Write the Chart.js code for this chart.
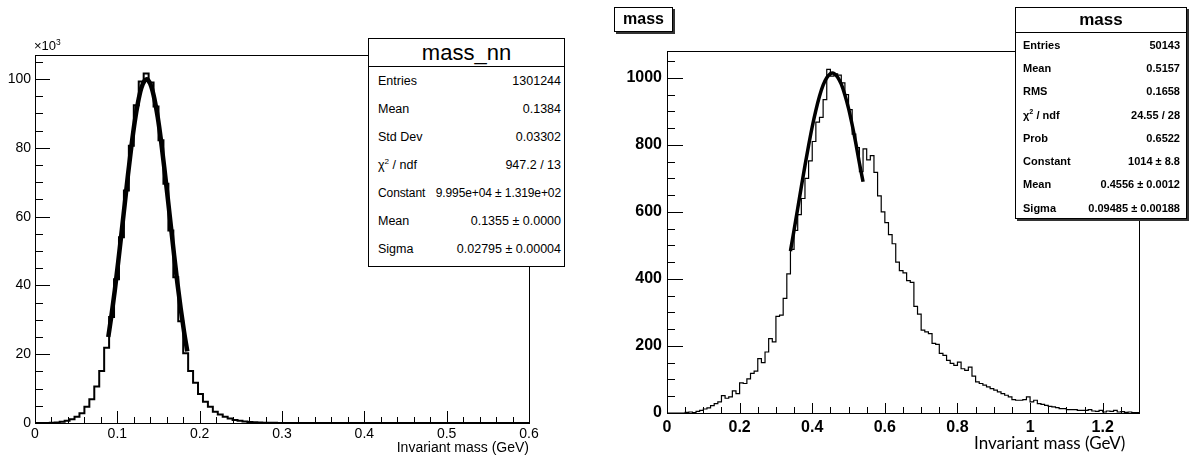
<!DOCTYPE html>
<html>
<head>
<meta charset="utf-8">
<script src="https://cdn.jsdelivr.net/npm/chart.js@4.4.1/dist/chart.umd.min.js"></script>
<style>
  body { margin: 0; width: 1194px; height: 459px; background: #fff; overflow: hidden; position: relative; font-family: "Liberation Sans", Arial, sans-serif; color: #000; }
  canvas { position: absolute; top: 0; }
  #leftCanvas { left: 0; }
  #rightCanvas { left: 590px; }
  .box { position: absolute; background: #fff; border: 1px solid #000; box-sizing: border-box; }
  .box .ttl { text-align: center; border-bottom: 1px solid #000; box-sizing: border-box; }
  .box .row { display: flex; justify-content: space-between; align-items: center; gap: 4px; white-space: nowrap; }
  sup { font-size: 65%; line-height: 0; }
  #statsL { left: 368px; top: 38px; width: 197px; height: 229px; font-size: 12.5px; }
  #statsL .ttl { height: 28px; line-height: 27px; font-size: 22px; }
  #statsL .row { height: 28px; padding: 0 3px 0 9px; }
  #statsL .row.tight { font-size: 12px; letter-spacing: -0.1px; }
  #statsR { left: 1015px; top: 7px; width: 172px; height: 212px; font-size: 11px; font-weight: bold; box-shadow: 2px 2px 0 #333; }
  #statsR .ttl { height: 25px; line-height: 24px; font-size: 17px; }
  #statsR .row { height: 23.3px; padding: 0 6px 0 7px; }
  #titleR { position: absolute; left: 614px; top: 7px; width: 59px; height: 25px; border: 1px solid #000; box-sizing: border-box; box-shadow: 2px 2px 0 #333; font-weight: bold; font-size: 16px; text-align: center; line-height: 22px; background: #fff; }
  #xtitleL { position: absolute; left: 329px; width: 200px; top: 439px; text-align: right; font-size: 14px; }
  #expL { position: absolute; left: 34px; top: 38px; font-size: 13px; }
  #xtitleR { position: absolute; left: 974px; top: 432px; font-family: Lato, "Open Sans", sans-serif; font-size: 17px; }
</style>
</head>
<body>
<canvas id="leftCanvas" width="590" height="459"></canvas>
<canvas id="rightCanvas" width="604" height="459"></canvas>

<div id="expL">&times;10<sup>3</sup></div>
<div id="xtitleL">Invariant mass (GeV)</div>
<div class="box" id="statsL">
  <div class="ttl">mass_nn</div>
  <div class="row"><span>Entries</span><span>1301244</span></div>
  <div class="row"><span>Mean</span><span>0.1384</span></div>
  <div class="row"><span>Std Dev</span><span>0.03302</span></div>
  <div class="row"><span>&chi;<sup>2</sup> / ndf</span><span>947.2 / 13</span></div>
  <div class="row tight"><span>Constant</span><span>9.995e+04 &plusmn; 1.319e+02</span></div>
  <div class="row"><span>Mean</span><span>0.1355 &plusmn; 0.0000</span></div>
  <div class="row"><span>Sigma</span><span>0.02795 &plusmn; 0.00004</span></div>
</div>

<div id="titleR">mass</div>
<div id="xtitleR">Invariant mass (GeV)</div>
<div class="box" id="statsR">
  <div class="ttl">mass</div>
  <div class="row"><span>Entries</span><span>50143</span></div>
  <div class="row"><span>Mean</span><span>0.5157</span></div>
  <div class="row"><span>RMS</span><span>0.1658</span></div>
  <div class="row"><span>&chi;<sup>2</sup> / ndf</span><span>24.55 / 28</span></div>
  <div class="row"><span>Prob</span><span>0.6522</span></div>
  <div class="row"><span>Constant</span><span>1014 &plusmn; 8.8</span></div>
  <div class="row"><span>Mean</span><span>0.4556 &plusmn; 0.0012</span></div>
  <div class="row"><span>Sigma</span><span>0.09485 &plusmn; 0.00188</span></div>
</div>

<script>
// ---- left histogram: mass_nn, 100 bins on 0..0.6 GeV, counts in units of 10^3
const leftBinWidth = 0.006;
const leftCounts = [
  0, 0, 0.02, 0.08, 0.18, 0.35, 0.62, 1.1, 1.8, 2.8,
  4.7, 6.9, 10.6, 15.1, 21.9, 30.8, 41.8, 54.0, 67.6, 80.6,
  92.4, 99.3, 101.6, 99.0, 92.0, 82.2, 69.6, 56.0, 42.4, 29.6,
  20.3, 15.1, 11.7, 8.4, 6.2, 4.7, 3.3, 2.5, 1.8, 1.3,
  0.9, 0.65, 0.45, 0.32, 0.22, 0.15, 0.1, 0.07, 0.05, 0.03,
  0.02, 0.02, 0.01, 0.01, 0.01, 0, 0, 0, 0, 0,
  0, 0, 0, 0, 0, 0, 0, 0, 0, 0,
  0, 0, 0, 0, 0, 0, 0, 0, 0, 0,
  0, 0, 0, 0, 0, 0, 0, 0, 0, 0,
  0, 0, 0, 0, 0, 0, 0, 0, 0, 0
];
// gaussian fit curve
const leftFitX = [0.089, 0.093, 0.097, 0.101, 0.105, 0.109, 0.113, 0.117, 0.121, 0.125, 0.129, 0.133, 0.1355,
                  0.137, 0.141, 0.145, 0.149, 0.153, 0.157, 0.161, 0.165, 0.169, 0.173, 0.177, 0.181, 0.185];
const leftFitY = [25.0, 31.5, 38.7, 46.7, 55.1, 63.7, 72.3, 80.3, 87.4, 93.1, 97.3, 99.5, 99.95,
                  99.8, 98.0, 94.3, 89.0, 82.2, 74.3, 65.9, 57.3, 48.7, 40.6, 33.2, 26.6, 20.8];
const leftXTicks = [0, 0.1, 0.2, 0.3, 0.4, 0.5, 0.6];
const leftXLabels = ['0', '0.1', '0.2', '0.3', '0.4', '0.5', '0.6'];
const leftYTicks = [0, 20, 40, 60, 80, 100];

// ---- right histogram: mass, 130 bins on 0..1.3 GeV
const rightBinWidth = 0.01;
const rightCounts = [
  0, 0, 0, 0, 0, 2, 3, 1, 5, 8,
  12, 15, 22, 28, 33, 52, 44, 48, 66, 58,
  90, 88, 102, 118, 125, 162, 150, 182, 222, 212,
  288, 292, 342, 415, 488, 545, 592, 640, 700, 752,
  810, 868, 882, 935, 1025, 1005, 1012, 1008, 985, 950,
  905, 832, 792, 720, 788, 755, 768, 718, 648, 600,
  568, 532, 505, 450, 425, 418, 395, 390, 318, 295,
  247, 242, 237, 208, 205, 178, 172, 157, 148, 142,
  152, 132, 127, 137, 110, 93, 88, 83, 78, 73,
  68, 63, 58, 53, 48, 40, 38, 38, 40, 48,
  33, 38, 28, 26, 23, 20, 18, 16, 13, 13,
  10, 10, 10, 8, 8, 8, 10, 6, 5, 8,
  3, 6, 5, 8, 3, 4, 2, 3, 1, 1
];
const rightFitX = [0.34, 0.35, 0.36, 0.37, 0.38, 0.39, 0.40, 0.41, 0.42, 0.43, 0.44, 0.45, 0.4556,
                   0.46, 0.47, 0.48, 0.49, 0.50, 0.51, 0.52, 0.53, 0.54];
const rightFitY = [483, 546, 610, 675, 738, 798, 854, 903, 945, 978, 1000, 1012, 1014,
                   1013, 1002, 981, 949, 909, 860, 805, 745, 690];
const rightXTicks = [0, 0.2, 0.4, 0.6, 0.8, 1.0, 1.2];
const rightXLabels = ['0', '0.2', '0.4', '0.6', '0.8', '1', '1.2'];
const rightYTicks = [0, 200, 400, 600, 800, 1000];

function histPoints(counts, width) {
  const pts = counts.map((c, i) => ({ x: i * width, y: c }));
  pts.push({ x: counts.length * width, y: 0 });
  return pts;
}

// ROOT style frame with ticks pointing into the pad
const rootFrame = {
  id: 'rootFrame',
  afterDatasetsDraw(chart, args, o) {
    const { ctx, chartArea: a, scales: { x, y } } = chart;
    ctx.save();
    ctx.strokeStyle = '#000';
    ctx.lineWidth = 1;
    ctx.strokeRect(Math.round(a.left) + 0.5, Math.round(a.top) + 0.5,
                   Math.round(a.right - a.left), Math.round(a.bottom - a.top));
    ctx.beginPath();
    const nx = Math.round(x.max / o.xMinor);
    for (let k = 0; k <= nx; k++) {
      const px = Math.round(x.getPixelForValue(k * o.xMinor)) + 0.5;
      const len = k % o.xPer === 0 ? o.xMajorLen : o.xMinorLen;
      ctx.moveTo(px, a.bottom);
      ctx.lineTo(px, a.bottom - len);
    }
    const ny = Math.floor(y.max / o.yMinor);
    for (let k = 0; k <= ny; k++) {
      const py = Math.round(y.getPixelForValue(k * o.yMinor)) + 0.5;
      const len = k % o.yPer === 0 ? o.yMajorLen : o.yMinorLen;
      ctx.moveTo(a.left, py);
      ctx.lineTo(a.left + len, py);
    }
    ctx.stroke();
    ctx.restore();
  }
};

function makeChart(id, cfg) {
  return new Chart(document.getElementById(id), {
    type: 'line',
    data: {
      datasets: [{
        data: histPoints(cfg.counts, cfg.binWidth),
        stepped: 'before',
        borderColor: '#000',
        borderWidth: cfg.histWidth,
        pointRadius: 0,
        fill: false
      }, {
        data: cfg.fitX.map((v, i) => ({ x: v, y: cfg.fitY[i] })),
        borderColor: '#000',
        borderWidth: cfg.fitWidth,
        cubicInterpolationMode: 'monotone',
        pointRadius: 0,
        fill: false
      }]
    },
    options: {
      responsive: false,
      animation: false,
      events: [],
      layout: { padding: cfg.padding },
      plugins: { legend: { display: false }, tooltip: { enabled: false }, rootFrame: cfg.frame },
      scales: {
        x: {
          type: 'linear', min: 0, max: cfg.xMax,
          grid: { display: false, drawTicks: false }, border: { display: false },
          afterBuildTicks: s => { s.ticks = cfg.xTicks.map(v => ({ value: v })); },
          afterFit: s => { s.height = cfg.xHeight; },
          ticks: {
            padding: cfg.xPad, color: '#000', maxRotation: 0, autoSkip: false, font: cfg.font,
            callback: (v, i) => cfg.xLabels[i]
          }
        },
        y: {
          type: 'linear', min: 0, max: cfg.yMax,
          grid: { display: false, drawTicks: false }, border: { display: false },
          afterBuildTicks: s => { s.ticks = cfg.yTicks.map(v => ({ value: v })); },
          afterFit: s => { s.width = cfg.yWidth; },
          ticks: { padding: cfg.yPad, color: '#000', autoSkip: false, font: cfg.font, callback: v => String(v) }
        }
      }
    },
    plugins: [rootFrame]
  });
}

makeChart('leftCanvas', {
  counts: leftCounts, binWidth: leftBinWidth, fitX: leftFitX, fitY: leftFitY,
  histWidth: 2, fitWidth: 4.5,
  xMax: 0.6, yMax: 107, xTicks: leftXTicks, xLabels: leftXLabels, yTicks: leftYTicks,
  padding: { left: 0, top: 55, right: 61, bottom: 0 }, xHeight: 36, yWidth: 35, xPad: 3, yPad: 4,
  font: { family: '"Liberation Sans", Arial, sans-serif', size: 14 },
  frame: { xMinor: 0.02, xPer: 5, xMajorLen: 12, xMinorLen: 6, yMinor: 5, yPer: 4, yMajorLen: 15, yMinorLen: 8 }
});

makeChart('rightCanvas', {
  counts: rightCounts, binWidth: rightBinWidth, fitX: rightFitX, fitY: rightFitY,
  histWidth: 1.2, fitWidth: 3.5,
  xMax: 1.3, yMax: 1080, xTicks: rightXTicks, xLabels: rightXLabels, yTicks: rightYTicks,
  padding: { left: 0, top: 51, right: 55, bottom: 0 }, xHeight: 46, yWidth: 77, xPad: 5, yPad: 5,
  font: { family: '"Liberation Sans", Arial, sans-serif', size: 16, weight: 'bold' },
  frame: { xMinor: 0.05, xPer: 4, xMajorLen: 10, xMinorLen: 6, yMinor: 50, yPer: 4, yMajorLen: 16, yMinorLen: 8 }
});
</script>
</body>
</html>
